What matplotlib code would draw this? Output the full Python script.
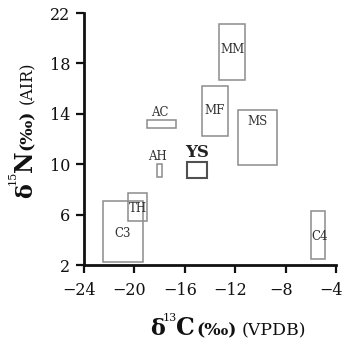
import matplotlib
matplotlib.use("Agg")
import matplotlib.pyplot as plt
from matplotlib.patches import Rectangle
from matplotlib.transforms import ScaledTranslation

# Data: boxes (x range of d13C, y range of d15N)
names = ["C3", "TH", "C4", "MM", "MF", "MS", "YS", "AC", "AH"]
x_lo = [-22.5, -20.5, -6.0, -13.3, -14.6, -11.8, -15.8, -19.0, -18.2]
x_hi = [-19.3, -19.0, -4.9, -11.2, -12.6, -8.7, -14.2, -16.7, -17.8]
y_lo = [2.2, 5.5, 2.5, 16.7, 12.2, 9.9, 8.9, 12.9, 9.0]
y_hi = [7.1, 7.7, 6.3, 21.1, 16.2, 14.3, 10.2, 13.5, 10.0]
label_x = [-20.95, -19.75, -5.3, -12.25, -13.6, -10.2, -15.0, -18.0, -18.2]
label_y = [4.5, 6.5, 4.3, 19.1, 14.3, 13.35, 10.9, 14.1, 10.6]

xticks = [-24, -20, -16, -12, -8, -4]
yticks = [2, 6, 10, 14, 18, 22]

plt.rcParams['font.family'] = ['DejaVu Serif']

W, H = 350, 339
fig = plt.figure(figsize=(W / 100, H / 100), dpi=100)
ax = fig.add_axes([84 / W, 1 - 265 / H, 252 / W, 252 / H])

for n, a, b, c, d, lx, ly in zip(names, x_lo, x_hi, y_lo, y_hi, label_x, label_y):
    bold = (n == "YS")
    ax.add_patch(Rectangle((a, c), b - a, d - c, fill=False,
                           edgecolor='#505050' if bold else '#8c8c8c',
                           linewidth=1.5 if bold else 1.1, zorder=2))
    ax.text(lx, ly, n, ha='center', va='center',
            fontsize=12 if bold else 8.5,
            fontweight='bold' if bold else 'normal',
            color='#222222' if bold else '#333333', zorder=3)

ax.set_xlim(-24, -4)
ax.set_ylim(2, 22)
ax.set_xticks(xticks)
ax.set_yticks(yticks)
ax.set_xticklabels([str(t).replace('-', '\u2212') for t in xticks])
ax.set_yticklabels([str(t) for t in yticks])
ax.tick_params(direction='out', length=6, width=1.6, labelsize=11.5, colors='#111111')
ax.tick_params(axis='x', pad=6)
ax.tick_params(axis='y', pad=4)
shift = ScaledTranslation(-5 / 100, 0, fig.dpi_scale_trans)
for lab in ax.get_xticklabels():
    lab.set_transform(lab.get_transform() + shift)
for s in ['top', 'right']:
    ax.spines[s].set_visible(False)
for s in ['left', 'bottom']:
    ax.spines[s].set_linewidth(2.0)
    ax.spines[s].set_color('#111111')

def fx(px):
    return px / W

def fy(py):
    return 1 - py / H

# x label pieces: (text, left px, baseline px, size, weight)
xpieces = [("\u03b4", 150, 335, 16, 'bold'),
           ("13", 163, 321, 8, 'normal'),
           ("C", 176, 335, 17, 'bold'),
           ("(\u2030)", 196, 335, 12.5, 'bold'),
           ("(VPDB)", 242, 335, 12.5, 'normal')]
for t, x, y, s, w in xpieces:
    fig.text(fx(x), fy(y), t, fontsize=s, fontweight=w, ha='left', va='baseline',
             color='#111111')

# y label pieces: (text, baseline x px, start y px, size, weight)
ypieces = [("\u03b4", 32, 198, 16, 'bold'),
           ("15", 16, 185, 8, 'normal'),
           ("N", 32, 172, 17, 'bold'),
           ("(\u2030)", 32, 150, 12.5, 'bold'),
           ("(AIR)", 32, 104, 11.5, 'normal')]
for t, x, y, s, w in ypieces:
    fig.text(fx(x), fy(y), t, fontsize=s, fontweight=w, ha='left', va='baseline',
             rotation=90, rotation_mode='anchor', color='#111111')

fig.savefig('out.png', dpi=100)
